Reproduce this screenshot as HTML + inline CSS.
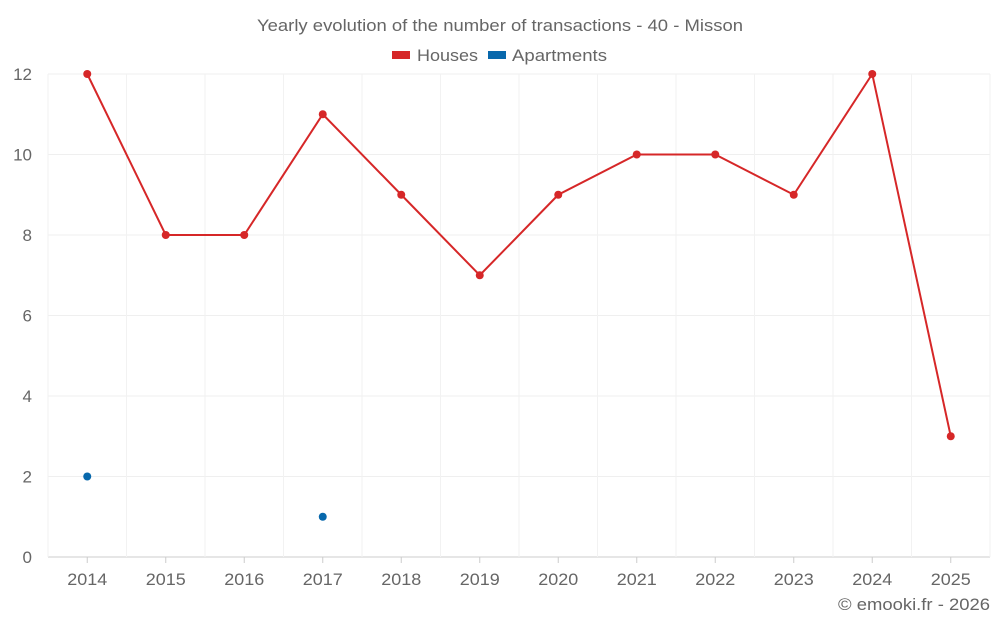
<!DOCTYPE html>
<html><head><meta charset="utf-8"><style>
body{margin:0;background:#fff;font-family:"Liberation Sans",sans-serif;}
svg text{font-family:"Liberation Sans",sans-serif;fill:#666;}
</style></head><body>
<svg id="chart" width="1000" height="625" viewBox="0 0 1000 625" xmlns="http://www.w3.org/2000/svg">
<text x="500" y="31" text-anchor="middle" font-size="17" textLength="486" lengthAdjust="spacingAndGlyphs">Yearly evolution of the number of transactions - 40 - Misson</text>
<g>
<g><rect x="392" y="51" width="18" height="8" fill="#d62728"/><text x="417" y="61" font-size="17" textLength="61" lengthAdjust="spacingAndGlyphs">Houses</text></g>
<g><rect x="488" y="51" width="18" height="8" fill="#0868ac"/><text x="512" y="61" font-size="17" textLength="95" lengthAdjust="spacingAndGlyphs">Apartments</text></g>
</g>
<g id="grid"></g>
<g id="axes"></g>
<g id="series"></g>
<text x="990" y="610" text-anchor="end" font-size="17" textLength="152" lengthAdjust="spacingAndGlyphs">© emooki.fr - 2026</text>
</svg>
<script>
const categories=["2014","2015","2016","2017","2018","2019","2020","2021","2022","2023","2024","2025"];
const houses=[12,8,8,11,9,7,9,10,10,9,12,3];
const apartments=[2,null,null,1,null,null,null,null,null,null,null,null];
const yTicks=[0,2,4,6,8,10,12];
const NS="http://www.w3.org/2000/svg";
const L=48,R=990,T=74,B=557,yMax=12;
const bw=(R-L)/categories.length;
const x=i=>L+bw*(i+0.5);
const y=v=>B-(v/yMax)*(B-T);
function mk(tag,attrs,parent){const e=document.createElementNS(NS,tag);for(const k in attrs)e.setAttribute(k,attrs[k]);parent.appendChild(e);return e;}
const grid=document.getElementById('grid'),axes=document.getElementById('axes'),series=document.getElementById('series');
yTicks.forEach(t=>{
 const l=mk('line',{x1:L,x2:R,y1:y(t),y2:y(t),stroke:t===0?'#ccc':'#efefef','stroke-width':1},grid);
 
 
 const tx=mk('text',{x:32,y:y(t)+6,'text-anchor':'end','font-size':17},axes);
 tx.textContent=t;
 
 
});
for(let i=0;i<=categories.length;i++){
 const l=mk('line',{x1:L+bw*i,x2:L+bw*i,y1:T,y2:B,stroke:'#f2f2f2','stroke-width':1},grid);
 
 
}
categories.forEach((c,i)=>{
 const tk=mk('line',{x1:x(i),x2:x(i),y1:B,y2:B+6,stroke:'#ccc'},axes);
 
 
 const tx=mk('text',{x:x(i),y:585,'text-anchor':'middle','font-size':17,textLength:40,lengthAdjust:'spacingAndGlyphs'},axes);
 tx.textContent=c;
 
 
});
const pts=houses.map((v,i)=>x(i)+','+y(v)).join(' ');
const pl=mk('polyline',{points:pts,fill:'none',stroke:'#d62728','stroke-width':2},series);


houses.forEach((v,i)=>{
 const c=mk('circle',{cx:x(i),cy:y(v),r:4,fill:'#d62728'},series);
 
 
});
apartments.forEach((v,i)=>{
 if(v===null)return;
 const c=mk('circle',{cx:x(i),cy:y(v),r:4,fill:'#0868ac'},series);
 
 
});
</script>
</body></html>
